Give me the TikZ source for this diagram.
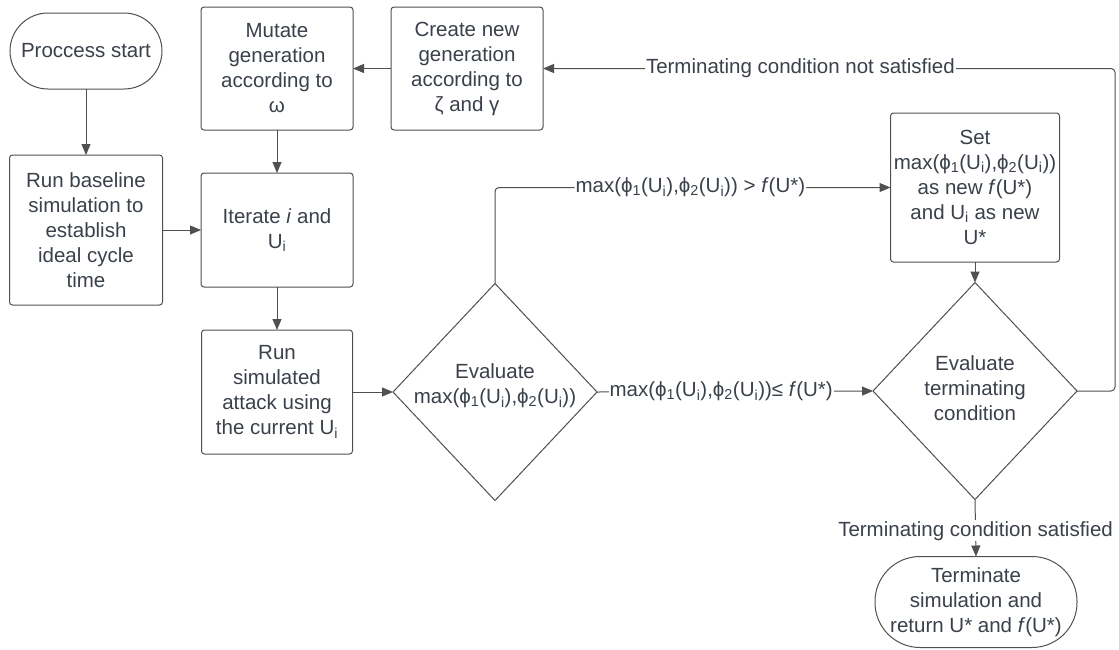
\documentclass[tikz,border=0pt]{standalone}
\usepackage{fontspec}
\setmainfont{Liberation Sans}
\usetikzlibrary{arrows.meta,shapes.geometric}
\definecolor{txt}{HTML}{3A414A}
\definecolor{ln}{HTML}{505050}
\newcommand{\Ui}{U\textsubscript{i}}
\newcommand{\phiU}[1]{ϕ\textsubscript{#1}(\Ui)}
\begin{document}
\begin{tikzpicture}[x=1pt,y=-1pt,
  font=\fontsize{20.5}{25}\selectfont, text=txt,
  box/.style={draw=ln, line width=1pt, rounded corners=3pt, align=center, inner sep=0pt, outer sep=0pt},
  dia/.style={diamond, draw=ln, line width=1pt, inner sep=0pt, outer sep=0pt},
  dtext/.style={align=center, inner sep=0pt},
  conn/.style={draw=ln, line width=1pt, -{Triangle[length=11pt,width=9pt]}},
  lbl/.style={fill=white, inner sep=1pt}
]
\useasboundingbox (0,0) rectangle (1119,649);
\fill[white] (0,0) rectangle (1119,649);

\node[box, rounded corners=38pt, minimum width=152pt, minimum height=76pt] (start) at (86,51) {Proccess start};
\node[box, minimum width=153pt, minimum height=150pt] (base) at (86,230) {Run baseline\\simulation to\\establish\\ideal cycle\\time};
\node[box, minimum width=152pt, minimum height=123pt] (mut) at (277,68.5) {Mutate\\generation\\according to\\ω};
\node[box, minimum width=152pt, minimum height=123pt] (create) at (467,68.5) {Create new\\generation\\according to\\ζ and γ};
\node[box, minimum width=152pt, minimum height=114pt] (iter) at (277,230) {Iterate \textit{i} and\\\Ui};
\node[box, minimum width=151pt, minimum height=124pt] (sim) at (277,392) {Run\\simulated\\attack using\\the current \Ui};
\node[dia, minimum width=204pt, minimum height=217pt] (d1) at (495,392) {};
\node[dtext] (d1t) at (495,386) {Evaluate\\max(\phiU1,\phiU2)};
\node[box, minimum width=169pt, minimum height=149pt] (set) at (975,187.5) {Set\\max(\phiU1,\phiU2)\\as new \textit{f}(U*)\\and \Ui{} as new\\U*};
\node[dia, minimum width=204pt, minimum height=217pt] (d2) at (975,391) {};
\node[dtext] (d2t) at (975,388) {Evaluate\\terminating\\condition};
\node[box, rounded corners=45pt, minimum width=202pt, minimum height=91pt] (term) at (976,602) {Terminate\\simulation and\\return U* and \textit{f}(U*)};

\coordinate (rc1) at (1115,391);
\coordinate (rc2) at (1115,68.5);

\draw[conn] (start) -- (base);
\draw[conn] (base) -- (iter);
\draw[conn] (create) -- (mut);
\draw[conn] (mut) -- (iter);
\draw[conn] (iter) -- (sim);
\draw[conn] (sim) -- (d1.west);
\draw[conn, rounded corners=4pt] (d1.north) |- node[lbl, pos=0.747] {max(\phiU1,\phiU2) > \textit{f}(U*)} (set.west);
\draw[conn] (d1.east) -- node[lbl, pos=0.45] {max(\phiU1,\phiU2)≤ \textit{f}(U*)} (d2.west);
\draw[conn] (set) -- (d2.north);
\draw[conn] (d2.south) -- node[lbl, pos=0.55] {Terminating condition satisfied} (term.north);
\draw[conn, rounded corners=4pt] (d2.east) -- (rc1) -- (rc2) -- node[lbl, pos=0.55] {Terminating condition not satisfied} (create.east);
\end{tikzpicture}
\end{document}
